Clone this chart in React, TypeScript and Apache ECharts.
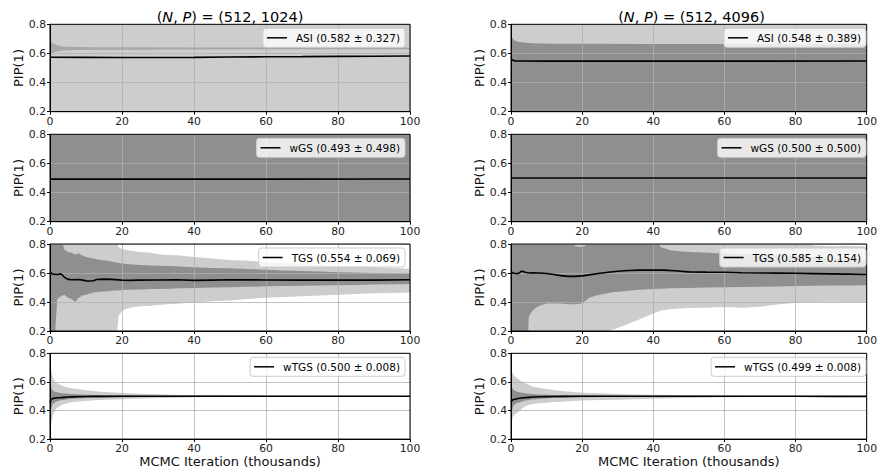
import React, { useEffect, useRef } from "react";
import * as echarts from "echarts";

// ---------- data ----------
const columnTitles = ["1024", "4096"];
const xLabelName = "MCMC Iteration (thousands)";
const yLabelName = "PIP(1)";

const legendASI1024 = "ASI (0.582 ± 0.327)";
const legendASI4096 = "ASI (0.548 ± 0.389)";
const legendWGS1024 = "wGS (0.493 ± 0.498)";
const legendWGS4096 = "wGS (0.500 ± 0.500)";
const legendTGS1024 = "TGS (0.554 ± 0.069)";
const legendTGS4096 = "TGS (0.585 ± 0.154)";
const legendWTGS1024 = "wTGS (0.500 ± 0.008)";
const legendWTGS4096 = "wTGS (0.499 ± 0.008)";

// ASI, P = 1024
const asi1024OuterX = [0, 100];
const asi1024OuterLo = [0, 0];
const asi1024OuterHi = [1, 1];
const asi1024InnerX = [0, 0.5, 1, 2, 3, 5, 8, 12, 20, 40, 60, 80, 100];
const asi1024InnerLo = [0.59, 0.6, 0.607, 0.614, 0.619, 0.622, 0.624, 0.625, 0.626, 0.627, 0.628, 0.628, 0.628];
const asi1024InnerHi = [0.69, 0.675, 0.668, 0.657, 0.65, 0.646, 0.644, 0.643, 0.642, 0.641, 0.641, 0.641, 0.641];
const asi1024MeanX = [0, 10, 20, 30, 40, 50, 60, 70, 80, 90, 100];
const asi1024Mean = [0.574, 0.573, 0.572, 0.572, 0.573, 0.575, 0.577, 0.578, 0.58, 0.581, 0.582];

// ASI, P = 4096
const asi4096OuterX = [0, 100];
const asi4096OuterLo = [0, 0];
const asi4096OuterHi = [1, 1];
const asi4096InnerX = [0, 0.3, 0.7, 1, 2, 3, 5, 8, 12, 20, 40, 60, 80, 100];
const asi4096InnerLo = [0, 0, 0, 0, 0, 0, 0, 0, 0, 0, 0, 0, 0, 0];
const asi4096InnerHi = [0.73, 0.71, 0.695, 0.688, 0.68, 0.676, 0.672, 0.669, 0.667, 0.666, 0.665, 0.665, 0.665, 0.665];
const asi4096MeanX = [0, 0.5, 1, 3, 10, 50, 100];
const asi4096Mean = [0.565, 0.553, 0.549, 0.548, 0.547, 0.547, 0.548];

// wGS
const wgsBandX = [0, 100];
const wgsBandLo = [0, 0];
const wgsBandHi = [1, 1];
const wgs1024MeanX = [0, 50, 100];
const wgs1024Mean = [0.492, 0.492, 0.493];
const wgs4096MeanX = [0, 50, 100];
const wgs4096Mean = [0.5, 0.5, 0.5];

// TGS, P = 1024
const tgs1024X = [0, 1, 2, 3, 4, 5, 6, 7, 8, 9, 10, 12, 14, 16, 18, 19, 20, 22, 25, 28, 30, 33, 36, 40, 45, 50, 55, 60, 65, 70, 75, 80, 85, 90, 95, 100];
const tgs1024LightHi = [0.95, 0.95, 0.95, 0.95, 0.95, 0.95, 0.95, 0.95, 0.95, 0.95, 0.95, 0.95, 0.95, 0.95, 0.95, 0.78, 0.765, 0.755, 0.745, 0.74, 0.73, 0.725, 0.72, 0.71, 0.7, 0.69, 0.685, 0.675, 0.67, 0.66, 0.655, 0.65, 0.645, 0.64, 0.635, 0.63];
const tgs1024LightLo = [0, 0, 0, 0, 0, 0, 0, 0, 0, 0, 0, 0, 0, 0, 0, 0.3, 0.34, 0.36, 0.37, 0.375, 0.38, 0.385, 0.39, 0.395, 0.405, 0.41, 0.42, 0.43, 0.435, 0.44, 0.445, 0.45, 0.455, 0.46, 0.462, 0.465];
const tgs1024DarkHi = [0.95, 0.95, 0.95, 0.85, 0.76, 0.745, 0.74, 0.728, 0.735, 0.72, 0.71, 0.7, 0.69, 0.685, 0.675, 0.67, 0.665, 0.66, 0.655, 0.652, 0.65, 0.648, 0.645, 0.64, 0.635, 0.632, 0.628, 0.622, 0.618, 0.614, 0.61, 0.606, 0.603, 0.6, 0.597, 0.595];
const tgs1024DarkLo = [0, 0, 0.42, 0.44, 0.45, 0.43, 0.42, 0.4, 0.43, 0.445, 0.45, 0.465, 0.47, 0.475, 0.48, 0.48, 0.482, 0.485, 0.487, 0.49, 0.49, 0.492, 0.494, 0.497, 0.5, 0.502, 0.505, 0.508, 0.51, 0.512, 0.514, 0.516, 0.518, 0.52, 0.522, 0.524];
const tgs1024MeanX = [0, 0.5, 1, 2, 3, 3.5, 4, 5, 6, 8, 9, 10, 11, 12, 13, 15, 17, 20, 22, 25, 30, 35, 40, 45, 50, 60, 70, 80, 90, 100];
const tgs1024Mean = [0.61, 0.595, 0.592, 0.59, 0.594, 0.585, 0.57, 0.556, 0.553, 0.555, 0.551, 0.546, 0.545, 0.547, 0.555, 0.558, 0.556, 0.551, 0.549, 0.551, 0.552, 0.553, 0.549, 0.551, 0.553, 0.552, 0.551, 0.551, 0.551, 0.553];

// TGS, P = 4096
const tgs4096X = [0, 2, 4, 4.5, 5, 6, 7, 8, 10, 12, 14, 16, 18, 20, 21, 22, 24, 26, 28, 30, 33, 36, 40, 42, 45, 50, 55, 60, 65, 70, 75, 80, 85, 90, 95, 100];
const tgs4096LightHi = [0.95, 0.95, 0.95, 0.95, 0.95, 0.95, 0.95, 0.95, 0.95, 0.95, 0.95, 0.95, 0.95, 0.95, 0.95, 0.95, 0.95, 0.95, 0.95, 0.95, 0.95, 0.95, 0.95, 0.95, 0.95, 0.95, 0.95, 0.95, 0.95, 0.95, 0.95, 0.95, 0.79, 0.785, 0.787, 0.782];
const tgs4096LightLo = [0, 0, 0, 0, 0, 0, 0, 0, 0, 0, 0, 0, 0, 0, 0, 0, 0, 0.19, 0.205, 0.22, 0.25, 0.28, 0.32, 0.34, 0.352, 0.358, 0.36, 0.365, 0.36, 0.367, 0.382, 0.395, 0.4, 0.402, 0.4, 0.397];
const tgs4096DarkHi = [0.95, 0.95, 0.95, 0.95, 0.95, 0.95, 0.95, 0.95, 0.95, 0.95, 0.95, 0.95, 0.785, 0.78, 0.79, 0.95, 0.95, 0.95, 0.95, 0.95, 0.95, 0.95, 0.95, 0.78, 0.755, 0.745, 0.74, 0.735, 0.73, 0.725, 0.72, 0.715, 0.71, 0.7, 0.69, 0.685];
const tgs4096DarkLo = [0, 0, 0, 0, 0.3, 0.34, 0.36, 0.375, 0.39, 0.39, 0.39, 0.385, 0.385, 0.39, 0.41, 0.43, 0.445, 0.455, 0.465, 0.47, 0.478, 0.485, 0.49, 0.492, 0.494, 0.497, 0.5, 0.502, 0.503, 0.505, 0.507, 0.51, 0.512, 0.513, 0.514, 0.515];
const tgs4096MeanX = [0, 0.5, 1, 2, 3, 4, 5, 6, 8, 10, 12, 14, 16, 18, 20, 22, 25, 28, 30, 33, 36, 40, 43, 46, 50, 55, 60, 65, 70, 75, 80, 85, 90, 95, 100];
const tgs4096Mean = [0.607, 0.6, 0.598, 0.596, 0.613, 0.605, 0.6, 0.602, 0.6, 0.597, 0.59, 0.582, 0.577, 0.577, 0.58, 0.587, 0.598, 0.607, 0.612, 0.617, 0.62, 0.621, 0.62, 0.615, 0.608, 0.606, 0.605, 0.602, 0.6, 0.599, 0.598, 0.596, 0.594, 0.592, 0.59];

// wTGS (both)
const wtgsX = [0, 0.3, 0.6, 1, 1.5, 2, 3, 4, 5, 6, 8, 10, 12, 15, 20, 25, 30, 35, 40, 50, 60, 70, 80, 90, 100];
const wtgs1024LightHi = [0.76, 0.69, 0.65, 0.62, 0.6, 0.59, 0.578, 0.566, 0.56, 0.555, 0.548, 0.541, 0.536, 0.53, 0.522, 0.517, 0.513, 0.51, 0.508, 0.506, 0.505, 0.504, 0.503, 0.503, 0.502];
const wtgs1024LightLo = [0.15, 0.3, 0.34, 0.38, 0.405, 0.42, 0.435, 0.445, 0.452, 0.458, 0.463, 0.467, 0.471, 0.475, 0.479, 0.484, 0.487, 0.49, 0.492, 0.494, 0.495, 0.496, 0.497, 0.497, 0.498];
const wtgs1024DarkHi = [0.6, 0.56, 0.545, 0.535, 0.53, 0.527, 0.523, 0.519, 0.517, 0.515, 0.512, 0.51, 0.509, 0.507, 0.506, 0.505, 0.504, 0.504, 0.503, 0.503, 0.502, 0.502, 0.502, 0.502, 0.502];
const wtgs1024DarkLo = [0.3, 0.41, 0.435, 0.45, 0.46, 0.465, 0.472, 0.476, 0.479, 0.482, 0.485, 0.487, 0.489, 0.491, 0.493, 0.494, 0.495, 0.496, 0.497, 0.497, 0.498, 0.498, 0.498, 0.498, 0.498];
const wtgs1024Mean = [0.455, 0.475, 0.482, 0.485, 0.487, 0.489, 0.49, 0.492, 0.494, 0.495, 0.497, 0.498, 0.499, 0.499, 0.5, 0.5, 0.5, 0.5, 0.5, 0.5, 0.5, 0.5, 0.5, 0.5, 0.5];
const wtgs4096LightHi = [0.7, 0.67, 0.65, 0.64, 0.63, 0.62, 0.605, 0.59, 0.58, 0.567, 0.557, 0.55, 0.543, 0.535, 0.525, 0.52, 0.516, 0.512, 0.51, 0.507, 0.505, 0.504, 0.503, 0.503, 0.502];
const wtgs4096LightLo = [0.15, 0.33, 0.36, 0.37, 0.38, 0.39, 0.41, 0.43, 0.438, 0.445, 0.45, 0.455, 0.459, 0.463, 0.47, 0.473, 0.475, 0.478, 0.482, 0.488, 0.492, 0.494, 0.495, 0.496, 0.497];
const wtgs4096DarkHi = [0.62, 0.56, 0.55, 0.54, 0.535, 0.53, 0.525, 0.52, 0.517, 0.515, 0.512, 0.51, 0.508, 0.507, 0.506, 0.505, 0.504, 0.503, 0.503, 0.503, 0.502, 0.502, 0.502, 0.502, 0.502];
const wtgs4096DarkLo = [0.2, 0.4, 0.43, 0.44, 0.45, 0.455, 0.462, 0.47, 0.474, 0.477, 0.481, 0.485, 0.487, 0.49, 0.492, 0.494, 0.495, 0.495, 0.496, 0.496, 0.497, 0.497, 0.497, 0.497, 0.497];
const wtgs4096Mean = [0.46, 0.47, 0.475, 0.478, 0.481, 0.484, 0.487, 0.49, 0.492, 0.494, 0.496, 0.497, 0.498, 0.499, 0.5, 0.5, 0.5, 0.5, 0.5, 0.5, 0.5, 0.5, 0.5, 0.499, 0.499];

// ---------- styling ----------
const FONT = "DejaVu Sans";
const LIGHT = "#cdcdcd";
const DARK = "#8f8f8f";
const MID = "#a7a7a7";
const COL_LEFT = [50, 511];
const COL_WIDTH = [360, 361];
const ROW_TOP = [24.3, 134.3, 244, 353.3];
const ROW_HEIGHT = [87.4, 87.4, 87, 86];
const LEGEND_RIGHT = [475, 14];

type Band = { x: number[]; lo: number[]; hi: number[]; color: string };
type Panel = { row: number; col: number; legend: string; bands: Band[]; meanX: number[]; mean: number[] };

const panels: Panel[] = [
  { row: 0, col: 0, legend: legendASI1024, meanX: asi1024MeanX, mean: asi1024Mean,
    bands: [
      { x: asi1024OuterX, lo: asi1024OuterLo, hi: asi1024OuterHi, color: LIGHT },
      { x: asi1024InnerX, lo: asi1024InnerLo, hi: asi1024InnerHi, color: MID },
    ] },
  { row: 0, col: 1, legend: legendASI4096, meanX: asi4096MeanX, mean: asi4096Mean,
    bands: [
      { x: asi4096OuterX, lo: asi4096OuterLo, hi: asi4096OuterHi, color: LIGHT },
      { x: asi4096InnerX, lo: asi4096InnerLo, hi: asi4096InnerHi, color: DARK },
    ] },
  { row: 1, col: 0, legend: legendWGS1024, meanX: wgs1024MeanX, mean: wgs1024Mean,
    bands: [{ x: wgsBandX, lo: wgsBandLo, hi: wgsBandHi, color: DARK }] },
  { row: 1, col: 1, legend: legendWGS4096, meanX: wgs4096MeanX, mean: wgs4096Mean,
    bands: [{ x: wgsBandX, lo: wgsBandLo, hi: wgsBandHi, color: DARK }] },
  { row: 2, col: 0, legend: legendTGS1024, meanX: tgs1024MeanX, mean: tgs1024Mean,
    bands: [
      { x: tgs1024X, lo: tgs1024LightLo, hi: tgs1024LightHi, color: LIGHT },
      { x: tgs1024X, lo: tgs1024DarkLo, hi: tgs1024DarkHi, color: DARK },
    ] },
  { row: 2, col: 1, legend: legendTGS4096, meanX: tgs4096MeanX, mean: tgs4096Mean,
    bands: [
      { x: tgs4096X, lo: tgs4096LightLo, hi: tgs4096LightHi, color: LIGHT },
      { x: tgs4096X, lo: tgs4096DarkLo, hi: tgs4096DarkHi, color: DARK },
    ] },
  { row: 3, col: 0, legend: legendWTGS1024, meanX: wtgsX, mean: wtgs1024Mean,
    bands: [
      { x: wtgsX, lo: wtgs1024LightLo, hi: wtgs1024LightHi, color: LIGHT },
      { x: wtgsX, lo: wtgs1024DarkLo, hi: wtgs1024DarkHi, color: DARK },
    ] },
  { row: 3, col: 1, legend: legendWTGS4096, meanX: wtgsX, mean: wtgs4096Mean,
    bands: [
      { x: wtgsX, lo: wtgs4096LightLo, hi: wtgs4096LightHi, color: LIGHT },
      { x: wtgsX, lo: wtgs4096DarkLo, hi: wtgs4096DarkHi, color: DARK },
    ] },
];

function buildOption() {
  const grid: any[] = [];
  const xAxis: any[] = [];
  const yAxis: any[] = [];
  const series: any[] = [];
  const legend: any[] = [];

  panels.forEach((p, k) => {
    grid.push({
      left: COL_LEFT[p.col],
      top: ROW_TOP[p.row],
      width: COL_WIDTH[p.col],
      height: ROW_HEIGHT[p.row],
      show: true,
      borderColor: "#000",
      borderWidth: 1,
      backgroundColor: "transparent",
      z: 4,
    });
    const isBottom = p.row === 3;
    xAxis.push({
      type: "value",
      gridIndex: k,
      min: 0,
      max: 100,
      interval: 20,
      z: 3,
      axisLine: { show: true, onZero: false, lineStyle: { color: "#000", width: 1 } },
      axisTick: { show: true, length: 3, lineStyle: { color: "#000", width: 1 } },
      axisLabel: { fontSize: 10.8, fontFamily: FONT, color: "#222", margin: 4 },
      splitLine: { show: true, lineStyle: { color: "#b0b0b0", width: 0.8 } },
      name: isBottom ? xLabelName : "",
      nameLocation: "middle",
      nameGap: 14,
      nameTextStyle: { fontSize: 13, fontFamily: FONT, color: "#111", verticalAlign: "top" },
    });
    yAxis.push({
      type: "value",
      gridIndex: k,
      min: 0.2,
      max: 0.8,
      interval: 0.2,
      z: 3,
      axisLine: { show: true, onZero: false, lineStyle: { color: "#000", width: 1 } },
      axisTick: { show: true, length: 3, lineStyle: { color: "#000", width: 1 } },
      axisLabel: {
        fontSize: 10.8, fontFamily: FONT, color: "#222", margin: 4,
        formatter: (v: number) => v.toFixed(1),
      },
      splitLine: { show: true, lineStyle: { color: "#b0b0b0", width: 0.8 } },
      name: yLabelName,
      nameLocation: "middle",
      nameGap: 25,
      nameRotate: 90,
      nameTextStyle: { fontSize: 13, fontFamily: FONT, color: "#111" },
    });

    p.bands.forEach((b, bi) => {
      series.push({
        type: "custom",
        name: `band-${k}-${bi}`,
        xAxisIndex: k,
        yAxisIndex: k,
        clip: true,
        silent: true,
        z: 2,
        data: b.x.map((x, i) => [x, b.lo[i], b.hi[i]]),
        encode: { x: 0, y: [1, 2] },
        renderItem: (params: any, api: any) => {
          if (params.dataIndex !== 0) return null;
          const pts: number[][] = [];
          for (let i = 0; i < b.x.length; i++) pts.push(api.coord([b.x[i], b.hi[i]]));
          for (let i = b.x.length - 1; i >= 0; i--) pts.push(api.coord([b.x[i], b.lo[i]]));
          return { type: "polygon", shape: { points: pts }, style: { fill: b.color, stroke: null } };
        },
      });
    });

    series.push({
      type: "line",
      name: p.legend,
      xAxisIndex: k,
      yAxisIndex: k,
      data: p.meanX.map((x, i) => [x, p.mean[i]]),
      showSymbol: false,
      symbol: "none",
      clip: true,
      silent: true,
      z: 6,
      color: "#000",
      lineStyle: { color: "#000", width: 1.6 },
      itemStyle: { color: "#000" },
    });

    legend.push({
      data: [{ name: p.legend }],
      right: LEGEND_RIGHT[p.col],
      top: ROW_TOP[p.row] + 4,
      selectedMode: false,
      icon: "rect",
      itemWidth: 20,
      itemHeight: 1.5,
      padding: [4, 5, 4, 4],
      backgroundColor: "rgba(255,255,255,0.8)",
      borderColor: "#cccccc",
      borderWidth: 1,
      borderRadius: 3,
      z: 10,
      textStyle: { fontSize: 10.5, fontFamily: FONT, color: "#000", padding: [0, 0, 0, 4] },
    });
  });

  const graphic = columnTitles.map((t, c) => ({
    type: "text",
    x: COL_LEFT[c] + COL_WIDTH[c] / 2,
    y: 17,
    z: 10,
    style: {
      text: `({i|N}, {i|P}) = (512, ${t})`,
      fontSize: 14.5,
      fontFamily: FONT,
      fill: "#000",
      align: "center",
      verticalAlign: "middle",
      rich: { i: { fontStyle: "italic", fontSize: 14.5, fontFamily: FONT, fill: "#000" } },
    },
  }));

  return {
    animation: false,
    backgroundColor: "#fff",
    textStyle: { fontFamily: FONT },
    grid,
    xAxis,
    yAxis,
    series,
    legend,
    graphic,
  };
}

export default function App() {
  const ref = useRef<HTMLDivElement>(null);
  useEffect(() => {
    if (!ref.current) return;
    const chart = echarts.init(ref.current, undefined, { renderer: "svg" });
    chart.setOption(buildOption() as any);
    return () => chart.dispose();
  }, []);
  return (
    <div
      ref={ref}
      style={{ position: "absolute", left: 0, top: 0, width: 880, height: 469 }}
    />
  );
}
